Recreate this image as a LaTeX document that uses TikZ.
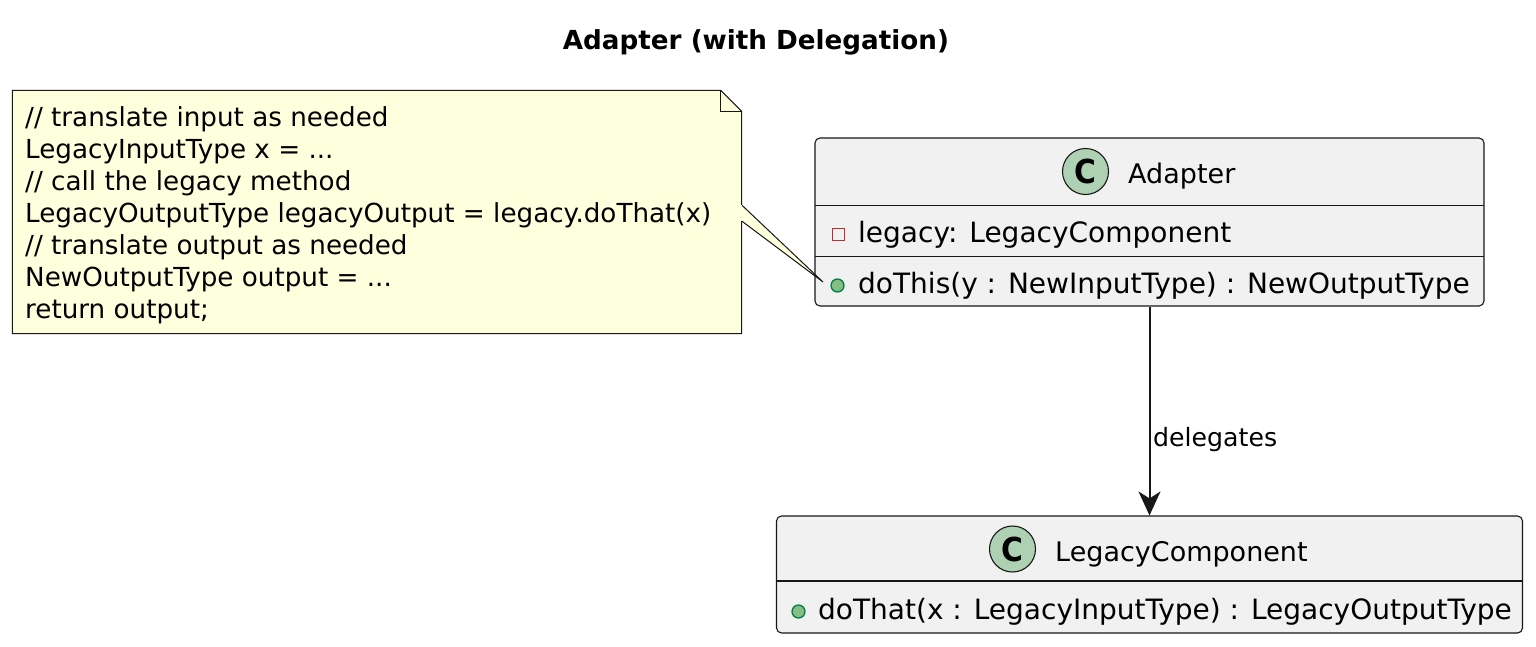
\documentclass[tikz,border=0pt]{standalone}
\usepackage{fontspec}
\setmainfont{DejaVu Sans}
\newfontfamily\condfont{DejaVu Sans Condensed}
\usetikzlibrary{arrows.meta,calc}
\definecolor{classbg}{HTML}{F1F1F1}
\definecolor{lineclr}{HTML}{181818}
\definecolor{cbg}{HTML}{ADD1B2}
\definecolor{notebg}{HTML}{FEFFDD}
\definecolor{privred}{HTML}{C82930}
\definecolor{pubfill}{HTML}{84BE84}
\definecolor{publine}{HTML}{038048}
\tikzset{
  classbox/.style={draw=lineclr, fill=classbg, line width=1.1pt, rounded corners=5pt, inner sep=0pt},
  sepline/.style={draw=lineclr, line width=1.1pt},
  cicon/.style={circle, draw=lineclr, fill=cbg, line width=1.1pt, minimum size=46pt, inner sep=0pt, font=\condfont\bfseries\fontsize{33}{33}\selectfont},
  nametxt/.style={anchor=base west, inner sep=0pt, font=\fontsize{27}{32}\selectfont},
  membtxt/.style={anchor=base west, inner sep=0pt, font=\fontsize{28}{32}\selectfont},
  notetxt/.style={anchor=base west, inner sep=0pt, font=\fontsize{26.2}{32}\selectfont},
  privicon/.style={draw=privred, line width=1.3pt, minimum size=12pt, inner sep=0pt},
  pubicon/.style={circle, draw=publine, fill=pubfill, line width=1.3pt, minimum size=13pt, inner sep=0pt},
  notebody/.style={draw=lineclr, fill=notebg, line width=1pt},
  arr/.style={draw=lineclr, line width=2pt, -{Stealth[length=24pt,width=22pt,inset=7pt]}}
}
\begin{document}
\begin{tikzpicture}[x=1pt,y=-1pt]
\useasboundingbox (0,0) rectangle (1536,646);
\fill[white] (0,0) rectangle (1536,646);
% title
\node[anchor=base, inner sep=0pt, font=\bfseries\fontsize{26.2}{30}\selectfont] (title) at (756,49) {Adapter (with Delegation)};
% Adapter class
\node[classbox, minimum width=669pt, minimum height=168pt] (adapter) at (1149.5,222) {};
\draw[sepline] (815,205.5) -- (1484,205.5);
\draw[sepline] (815,256.5) -- (1484,256.5);
\node[cicon] (adc) at (1085.5,171.5) {C};
\node[nametxt] (adname) at (1128,183) {Adapter};
\node[privicon] (adpriv) at (838.5,234.5) {};
\node[membtxt] (adattr) at (858,242) {legacy: LegacyComponent};
\node[pubicon] (adpub) at (837.5,285.5) {};
\node[membtxt] (admeth) at (858,293) {doThis(y : NewInputType) : NewOutputType};
% LegacyComponent class
\node[classbox, minimum width=746pt, minimum height=117pt] (legacy) at (1149.5,574.5) {};
\draw[sepline] (776.5,581) -- (1522.5,581);
\node[cicon] (lgc) at (1012.5,549) {C};
\node[nametxt] (lgname) at (1055,561.5) {LegacyComponent};
\node[pubicon] (lgpub) at (798.5,611.5) {};
\node[membtxt] (lgmeth) at (818,619) {doThat(x : LegacyInputType) : LegacyOutputType};
% association
\draw[arr] (adapter.south) -- (legacy.north);
\node[anchor=base west, inner sep=0pt, font=\fontsize{25.2}{30}\selectfont] (dlabel) at (1153,446) {delegates};
% note
\node[minimum width=729pt, minimum height=243pt, inner sep=0pt] (note) at (377,212) {};
\coordinate (ptr) at (823,282);
\path[notebody] (note.north west) -- ($(note.north east)+(-21,0)$) -- ($(note.north east)+(0,21)$) -- (note.south east) -- (note.south west) -- cycle;
\draw[lineclr, line width=1pt] ($(note.north east)+(-21,0)$) -- ($(note.north east)+(-21,21)$) -- ($(note.north east)+(0,21)$);
\path[notebody] ($(note.east)+(0,-7)$) -- (ptr) -- ($(note.east)+(0,9)$);
\fill[notebg] ($(note.east)+(-2,-7)$) rectangle ($(note.east)+(0.5,9)$);
\node[notetxt] (n1) at (25,126) {// translate input as needed};
\node[notetxt] (n2) at (25,158) {LegacyInputType x = ...};
\node[notetxt] (n3) at (25,190) {// call the legacy method};
\node[notetxt] (n4) at (25,222) {LegacyOutputType legacyOutput = legacy.doThat(x)};
\node[notetxt] (n5) at (25,254) {// translate output as needed};
\node[notetxt] (n6) at (25,286) {NewOutputType output = ...};
\node[notetxt] (n7) at (25,318) {return output;};
\end{tikzpicture}
\end{document}
